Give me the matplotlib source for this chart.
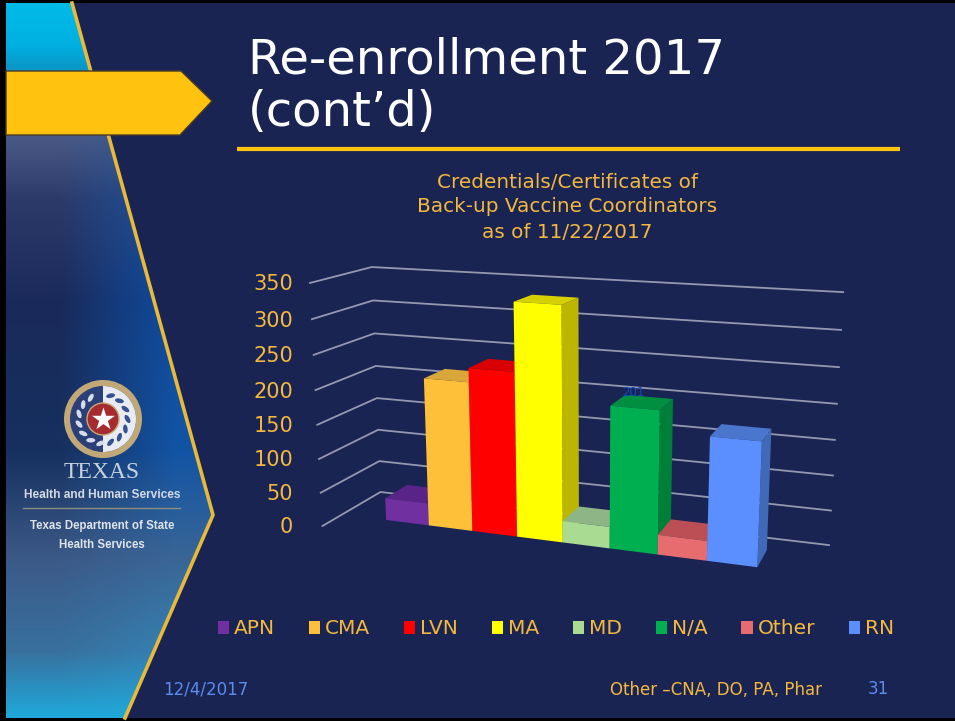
import numpy as np
import matplotlib
matplotlib.use("Agg")
import matplotlib.pyplot as plt
from matplotlib.patches import Polygon, Circle, Wedge, Ellipse, Patch
from matplotlib.transforms import Transform

# ---------- data ----------
categories = ["APN", "CMA", "LVN", "MA", "MD", "N/A", "Other", "RN"]
values = [33, 216, 236, 332, 31, 201, 28, 172]
front_colors = ["#7030A0", "#FFC039", "#FF0000", "#FFFF00", "#A9DC92", "#00B050", "#E66C70", "#5B8EFF"]
top_colors = ["#5A2388", "#D9A63A", "#D80000", "#D6D000", "#8DB585", "#008F40", "#BC4F55", "#4A76CE"]
side_colors = ["#4F1E78", "#C79530", "#B80000", "#BDB600", "#7E9E78", "#007F38", "#A84449", "#4069B8"]
y_ticks = [0, 50, 100, 150, 200, 250, 300, 350]
chart_title = ["Credentials/Certificates of", "Back-up Vaccine Coordinators", "as of 11/22/2017"]

NAVY = "#1A2453"
GOLD = "#F4B83E"
BLUE = "#5B8CEB"

W, H = 955, 721
fig = plt.figure(figsize=(W / 100, H / 100), dpi=100, facecolor="black")
ax = fig.add_axes([0, 0, 1, 1])
ax.set_xlim(0, W)
ax.set_ylim(H, 0)
ax.axis("off")
ax.set_autoscale_on(False)


def fit_camera(world, image):
    """Least-squares 3x4 projective camera from reference points."""
    rows, rhs = [], []
    for (x, y, z), (u, v) in zip(world, image):
        y = y / 100
        rows.append([x, y, z, 1, 0, 0, 0, 0, -u * x, -u * y, -u * z]); rhs.append(u)
        rows.append([0, 0, 0, 0, x, y, z, 1, -v * x, -v * y, -v * z]); rhs.append(v)
    p = np.linalg.lstsq(np.array(rows, float), np.array(rhs, float), rcond=None)[0]
    return np.append(p, 1).reshape(3, 4)


def project(cam, x, y, z):
    x, y, z = np.broadcast_arrays(np.asarray(x, float), np.asarray(y, float), np.asarray(z, float))
    h = np.stack([x, y / 100, z, np.ones_like(x)])
    q = cam @ h.reshape(4, -1)
    return (q[0] / q[2]).reshape(x.shape), (q[1] / q[2]).reshape(x.shape)


class PlaneTransform(Transform):
    """Category/value plane at fixed depth, seen through the camera."""
    input_dims = output_dims = 2

    def __init__(self, cam, plane_z):
        super().__init__()
        self.cam, self.plane_z = cam, plane_z

    def transform_non_affine(self, xy):
        xy = np.asarray(xy, float)
        u, v = project(self.cam, xy[:, 0], xy[:, 1], self.plane_z)
        return np.column_stack([u, v])


# ---------- slide: background, side panel ----------
ax.add_patch(Polygon([(6, 3), (W, 3), (W, 718), (6, 718)], fc=NAVY, ec="none", zorder=0))

panel = [(6, 3), (72, 3), (213, 515), (125, 718), (6, 718)]
stops = [3, 45, 70, 136, 200, 300, 450, 560, 650, 718]
left_c = ["#00BAE8", "#00B0E2", "#0C94C4", "#4A5A86", "#2C3A6A", "#1A2A5A", "#16305F", "#3C5A88", "#38709E", "#1FAADB"]
right_c = ["#00BAE8", "#00B0E2", "#0C94C4", "#34588E", "#1C529E", "#0F4CA0", "#1254A4", "#3A6696", "#3482B4", "#1FAADB"]
to_rgb = lambda cs: np.array([matplotlib.colors.to_rgb(c) for c in cs])
ys = np.arange(H)
L = np.stack([np.interp(ys, stops, to_rgb(left_c)[:, i]) for i in range(3)], axis=1)
R = np.stack([np.interp(ys, stops, to_rgb(right_c)[:, i]) for i in range(3)], axis=1)
t = np.clip((np.arange(220) - 60) / 115, 0, 1)[None, :, None]
img = L[:, None, :] * (1 - t) + R[:, None, :] * t
clip = Polygon(panel, transform=ax.transData, fc="none", ec="none")
ax.add_patch(clip)
im = ax.imshow(img, extent=(0, 220, H, 0), aspect="auto", zorder=1, interpolation="bilinear")
im.set_clip_path(clip)
ax.set_xlim(0, W)
ax.set_ylim(H, 0)

ax.plot([72, 213, 125], [3, 515, 718], color="#E8B93A", lw=2.6, zorder=2, solid_joinstyle="miter")
ax.add_patch(Polygon([(6, 71), (181, 71), (212, 101), (180, 135), (6, 135)],
                     fc="#FFC20E", ec="#4A3A20", lw=1, zorder=3))

# logo
cx, cy = 103, 419
ax.add_patch(Circle((cx, cy), 39, fc="#C3A877", ec="none", zorder=3))
ax.add_patch(Circle((cx, cy), 33, fc="#2B3F78", ec="none", zorder=3))
ax.add_patch(Wedge((cx, cy), 33, -90, 90, fc="#E8ECF2", ec="none", zorder=3))
for a in np.arange(0, 360, 24):
    if 75 < a < 105:
        continue
    r = np.radians(a)
    col = "#35528E" if np.cos(r) > 0 else "#D5DDEA"
    ax.add_patch(Ellipse((cx + 24.5 * np.cos(r), cy - 24.5 * np.sin(r)), 9, 4.5,
                         angle=-a + 60, fc=col, ec="none", zorder=4))
ax.add_patch(Circle((cx, cy), 16, fc="#A52B2F", ec="#C8A878", lw=1, zorder=5))
ax.scatter([cx], [cy], marker="*", s=300, c="white", linewidths=0, zorder=6)

ax.text(102, 473, "TEXAS", family="Liberation Serif", fontsize=17, color="#C8D2DE",
        ha="center", va="center", zorder=6)
ax.text(102, 495, "Health and Human Services", family="Liberation Sans", fontsize=8.6, weight="bold",
        color="#D4DAE4", ha="center", va="center", zorder=6)
ax.plot([23, 180], [508, 508], color="#8C8F80", lw=1, zorder=6)
ax.text(102, 526, "Texas Department of State", family="Liberation Sans", fontsize=8.3, weight="bold",
        color="#E0E4EA", ha="center", va="center", zorder=6)
ax.text(102, 545, "Health Services", family="Liberation Sans", fontsize=8.3, weight="bold",
        color="#E0E4EA", ha="center", va="center", zorder=6)

# ---------- titles ----------
ax.text(248, 60, "Re-enrollment 2017", fontsize=34.7, color="white", ha="left", va="center", zorder=6)
ax.text(248, 113, "(cont\u2019d)", fontsize=34.7, color="white", ha="left", va="center", zorder=6)
ax.plot([237, 900], [149, 149], color="#FFC20E", lw=3, solid_capstyle="butt", zorder=6)
for line, y in zip(chart_title, [183, 207, 232]):
    ax.text(567, y, line, fontsize=14.4, color=GOLD, ha="center", va="center", zorder=6)

# ---------- walls and gridlines ----------
wall_cam = fit_camera(
    [(0, 0, 1), (0, 350, 1), (1, 0, 0), (1, 350, 0), (0, 0, 0), (0, 350, 0),
     (0, 200, 1), (1, 200, 0), (0, 200, 0)],
    [(323, 526), (310, 283), (829, 545), (843, 292), (380, 492), (372, 267),
     (315, 390), (837, 404), (376, 366)],
)
for v in y_ticks:
    px, py = project(wall_cam, [0, 0, 1], v, [1, 0, 0])
    ax.plot(px, py, color="#9499B0", lw=1.3, zorder=2)
    ax.text(293, py[0] + 1.5, str(v), fontsize=15, color=GOLD, ha="right", va="center", zorder=6)

# ---------- bars ----------
bar_cam = fit_camera(
    [(0, 0, 0), (1, 0, 0), (2, 0, 0), (3, 0, 0), (4, 0, 0), (5, 0, 0), (6, 0, 0), (7, 0, 0), (8, 0, 0),
     (1, 216, 0), (2, 236, 0), (3, 332, 0), (4, 332, 0), (3, 332, 1), (4, 332, 1),
     (7, 172, 0), (8, 172, 0), (8, 172, 1), (8, 0, 1), (0, 33, 1), (5, 201, 0), (6, 201, 0),
     (6, 201, 1), (5, 201, 1)],
    [(387, 520), (428, 526), (472, 531), (517, 537), (563, 542), (609, 550), (657, 555), (707, 560), (757, 567),
     (425, 376), (469, 366), (513, 303), (562, 305), (532, 295), (578, 297),
     (710, 437), (762, 443), (772, 430), (768, 547), (407, 486), (610, 406), (660, 409),
     (674, 398), (623, 397)],
)
front = PlaneTransform(bar_cam, 0.0) + ax.transData
for i, (val, fc, tc, sc) in enumerate(zip(values, front_colors, top_colors, side_colors)):
    z = 3 + i * 0.1
    sx, sy = project(bar_cam, [i + 1, i + 1, i + 1, i + 1], [0, val, val, 0], [0, 0, 1, 1])
    ax.fill(sx, sy, color=sc, lw=0, zorder=z)
    tx, ty = project(bar_cam, [i, i + 1, i + 1, i], val, [0, 0, 1, 1])
    ax.fill(tx, ty, color=tc, lw=0, zorder=z)
    ax.bar(i, val, width=1, align="edge", color=fc, lw=0, transform=front, zorder=z + 0.05)

ax.text(633, 393, "201", fontsize=8.5, color="#0B49C4", ha="center", va="center", zorder=6)

# ---------- legend ----------
handles = [Patch(fc=c, ec="none", label=n) for c, n in zip(front_colors, categories)]
leg = ax.legend(handles=handles, ncol=8, frameon=False, fontsize=14.5, labelcolor=GOLD,
                loc="center", bbox_to_anchor=(556 / W, 1 - 629 / H), handlelength=0.58, handleheight=0.62,
                handletextpad=0.25, columnspacing=1.65, borderpad=0, borderaxespad=0)
leg.set_zorder(6)

# ---------- footer ----------
ax.text(163, 689, "12/4/2017", fontsize=12, color=BLUE, ha="left", va="center", zorder=6)
ax.text(610, 690, "Other \u2013CNA, DO, PA, Phar", fontsize=12, color=GOLD, ha="left", va="center", zorder=6)
ax.text(868, 689, "31", fontsize=12, color=BLUE, ha="left", va="center", zorder=6)

fig.savefig("out.png", dpi=100, facecolor=fig.get_facecolor())
